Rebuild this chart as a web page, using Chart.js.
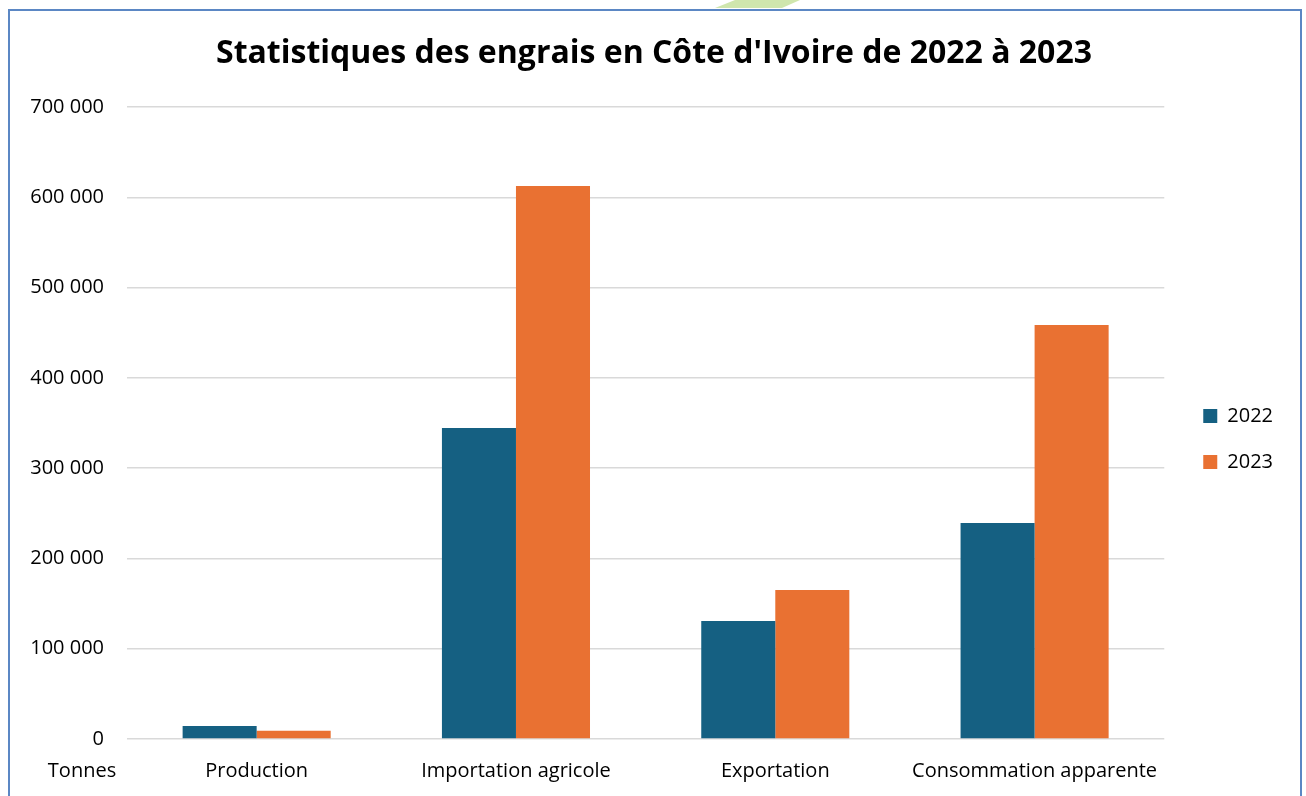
<!DOCTYPE html>
<html>
<head>
<meta charset="utf-8">
<script src="https://cdn.jsdelivr.net/npm/chart.js@4"></script>
<style>
  html, body { margin: 0; padding: 0; background: #fff; overflow: hidden; }
  #wrap { position: relative; width: 1306px; height: 796px; }
  #frame { position: absolute; left: 8px; top: 9px; width: 1290px; height: 800px; border: 2px solid #5b87c4; pointer-events: none; }
  #leaf { position: absolute; left: 712px; top: 0; width: 90px; height: 8px; background: #cfe6ad; clip-path: polygon(3px 100%, 70px 100%, 88px 0, 23px 0); pointer-events: none; }
</style>
</head>
<body>
<div id="wrap">
  <canvas id="c" width="1306" height="796"></canvas>
  <div id="leaf"></div>
  <div id="frame"></div>
</div>
<script>
const categories = ["Production", "Importation agricole", "Exportation", "Consommation apparente"];
const values2022 = [14400, 344500, 130700, 239200];
const values2023 = [9200, 612500, 165000, 458500];
const seriesLabels = ["2022", "2023"];
const titleText = "Statistiques des engrais en Côte d'Ivoire de 2022 à 2023";
const unitLabel = "Tonnes";

const FONT = "'Open Sans', 'Liberation Sans', Arial, sans-serif";

const unitPlugin = {
  id: 'unitLabel',
  afterLayout(chart) {
    if (chart.legend) { chart.legend.left += 13; chart.legend.right += 13; }
    if (chart.titleBlock) { chart.titleBlock.left += 19; chart.titleBlock.right += 19; chart.titleBlock.top += 1; chart.titleBlock.bottom += 1; }
  },
  afterDraw(chart) {
    const ctx = chart.ctx;
    ctx.save();
    ctx.font = "20px " + FONT;
    ctx.fillStyle = '#000';
    ctx.textAlign = 'center';
    ctx.textBaseline = 'middle';
    ctx.fillText(unitLabel, 82, chart.chartArea.bottom + 32);
    ctx.restore();
  }
};

new Chart(document.getElementById('c'), {
  type: 'bar',
  data: {
    labels: categories,
    datasets: [
      { label: seriesLabels[0], data: values2022, backgroundColor: '#156082', borderWidth: 0 },
      { label: seriesLabels[1], data: values2023, backgroundColor: '#E97132', borderWidth: 0 }
    ]
  },
  options: {
    responsive: false,
    animation: false,
    devicePixelRatio: 1,
    layout: { padding: { left: 0, right: 36, top: 0, bottom: 0 } },
    datasets: { bar: { categoryPercentage: 0.571, barPercentage: 1.0 } },
    plugins: {
      title: {
        display: true,
        text: titleText,
        color: '#000',
        font: { family: FONT, size: 32, weight: 'bold' },
        padding: { top: 34, bottom: 34.6 }
      },
      legend: {
        position: 'right',
        fullSize: false,
        title: { display: true, text: ' ', font: { size: 10 }, padding: { top: 10, bottom: 10 } },
        labels: {
          color: '#000',
          boxWidth: 14,
          boxHeight: 14,
          padding: 26,
          font: { family: FONT, size: 20 }
        }
      },
      tooltip: { enabled: false }
    },
    scales: {
      x: {
        grid: { display: false },
        border: { display: false },
        ticks: { color: '#000', font: { family: FONT, size: 20 }, padding: 12, maxRotation: 0 },
        afterFit(s) { s.height = 57; }
      },
      y: {
        min: 0,
        max: 700000,
        ticks: {
          stepSize: 100000,
          color: '#000',
          font: { family: FONT, size: 20 },
          padding: 23,
          callback: v => String(v).replace(/\B(?=(\d{3})+(?!\d))/g, ' ')
        },
        grid: { color: '#d9d9d9', lineWidth: 1.5, drawTicks: false },
        border: { display: false },
        afterFit(s) { s.width = 127; }
      }
    }
  },
  plugins: [unitPlugin]
});
</script>
</body>
</html>
